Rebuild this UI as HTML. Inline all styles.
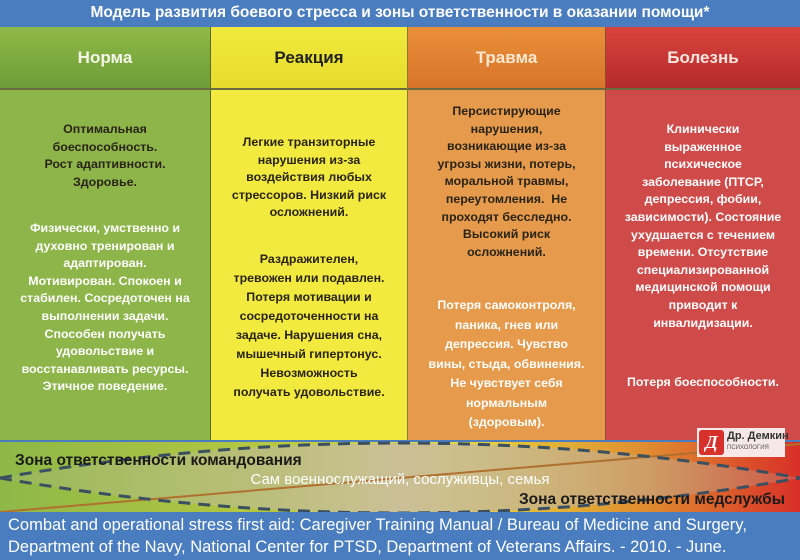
<!DOCTYPE html>
<html><head><meta charset="utf-8"><style>
body{margin:0;width:800px;height:560px;overflow:hidden;font-family:"Liberation Sans",sans-serif;background:#fff;position:relative}
.a{position:absolute}
.t{position:absolute;left:0;top:0;width:800px;height:27px;background:#4a7dc0;color:#fff;font-weight:bold;font-size:15.5px;text-align:center;line-height:25px}
.h{position:absolute;top:27px;height:61px;line-height:61px;text-align:center;font-weight:bold;font-size:17px}
.c{position:absolute;top:90px;height:350px}
.tx{position:absolute;text-align:center;font-weight:bold;font-size:12.4px;line-height:17.6px;color:#2a2418}
.w{color:#fff}
</style></head><body>
<div class="t">Модель развития боевого стресса и зоны ответственности в оказании помощи*</div>
<div class="h" style="left:0;width:210px;background:linear-gradient(#8fba48,#6e9c37);color:#f4f6e8">Норма</div>
<div class="h" style="left:211px;width:196px;background:linear-gradient(#f1ea3c,#e6dc2c);color:#222">Реакция</div>
<div class="h" style="left:408px;width:197px;background:linear-gradient(#e9903a,#d8742a);color:#fbe8d0">Травма</div>
<div class="h" style="left:606px;width:194px;background:linear-gradient(#d8443d,#b52a2c);color:#fbe5e0">Болезнь</div>
<div class="a" style="left:0;top:88px;width:800px;height:2px;background:#6a6a40"></div>
<div class="c" style="left:0;width:210px;background:#8db54a"></div>
<div class="c" style="left:211px;width:196px;background:#f2ea3e"></div>
<div class="c" style="left:408px;width:197px;background:#e59a4c"></div>
<div class="c" style="left:606px;width:194px;background:#cf4b4a"></div>
<div class="a" style="left:210px;top:27px;width:1px;height:413px;background:#5a6a30"></div>
<div class="a" style="left:407px;top:27px;width:1px;height:413px;background:#8a7a30"></div>
<div class="a" style="left:605px;top:27px;width:1px;height:413px;background:#8a5030"></div>

<div class="tx" style="left:0;width:210px;top:121px">Оптимальная<br>боеспособность.<br>Рост адаптивности.<br>Здоровье.</div>
<div class="tx w" style="left:0;width:210px;top:220px">Физически, умственно и<br>духовно тренирован и<br>адаптирован.<br>Мотивирован. Спокоен и<br>стабилен. Сосредоточен на<br>выполнении задачи.<br>Способен получать<br>удовольствие и<br>восстанавливать ресурсы.<br>Этичное поведение.</div>

<div class="tx" style="left:211px;width:196px;top:134px">Легкие транзиторные<br>нарушения из-за<br>воздействия любых<br>стрессоров. Низкий риск<br>осложнений.</div>
<div class="tx" style="left:211px;width:196px;top:250px;line-height:19px">Раздражителен,<br>тревожен или подавлен.<br>Потеря мотивации и<br>сосредоточенности на<br>задаче. Нарушения сна,<br>мышечный гипертонус.<br>Невозможность<br>получать удовольствие.</div>

<div class="tx" style="left:408px;width:197px;top:103px">Персистирующие<br>нарушения,<br>возникающие из-за<br>угрозы жизни, потерь,<br>моральной травмы,<br>переутомления. &nbsp;Не<br>проходят бесследно.<br>Высокий риск<br>осложнений.</div>
<div class="tx w" style="left:408px;width:197px;top:296px;line-height:19.5px">Потеря самоконтроля,<br>паника, гнев или<br>депрессия. Чувство<br>вины, стыда, обвинения.<br>Не чувствует себя<br>нормальным<br>(здоровым).</div>

<div class="tx w" style="left:606px;width:194px;top:121px">Клинически<br>выраженное<br>психическое<br>заболевание (ПТСР,<br>депрессия, фобии,<br>зависимости). Состояние<br>ухудшается с течением<br>времени. Отсутствие<br>специализированной<br>медицинской помощи<br>приводит к<br>инвалидизации.</div>
<div class="tx w" style="left:606px;width:194px;top:374px">Потеря боеспособности.</div>

<svg class="a" style="left:0;top:440px" width="800" height="73" viewBox="0 440 800 73">
<defs><linearGradient id="g" x1="0" x2="1"><stop offset="0" stop-color="#8db848"/><stop offset="0.35" stop-color="#b8c840"/><stop offset="0.55" stop-color="#e8e040"/><stop offset="0.8" stop-color="#e09030"/><stop offset="1" stop-color="#d83028"/></linearGradient>
<linearGradient id="m" x1="0" x2="1"><stop offset="0" stop-color="#a8b880" stop-opacity="0.3"/><stop offset="0.5" stop-color="#c8bca0" stop-opacity="0.9"/><stop offset="1" stop-color="#b8a090" stop-opacity="0.3"/></linearGradient></defs>
<rect x="0" y="440" width="800" height="73" fill="url(#g)"/>
<rect x="0" y="440" width="800" height="2" fill="#4a7dc0"/>
<path d="M0,478 Q400,408 800,478 Q400,548 0,478Z" fill="url(#m)"/>
<line x1="0" y1="512" x2="800" y2="444" stroke="#b07030" stroke-width="2"/>
<path d="M0,478 Q400,408 800,478" fill="none" stroke="#3a5060" stroke-width="3" stroke-dasharray="12,8"/>
<path d="M0,478 Q400,548 800,478" fill="none" stroke="#3a5060" stroke-width="3" stroke-dasharray="12,8"/>
<text x="15" y="465" font-family="Liberation Sans" font-weight="bold" font-size="15.5" fill="#1a1a1a">Зона ответственности командования</text>
<text x="400" y="484" text-anchor="middle" font-family="Liberation Sans" font-size="15" fill="#fff">Сам военнослужащий, сослуживцы, семья</text>
<text x="785" y="504" text-anchor="end" font-family="Liberation Sans" font-weight="bold" font-size="15.5" fill="#1a1a1a">Зона ответственности медслужбы</text>
</svg>
<div class="a" style="left:697px;top:428px;width:88px;height:29px;background:#f6e8e8"></div>
<div class="a" style="left:699px;top:430px;width:25px;height:25px;background:#d8302a;border-radius:3px;color:#fff;font:italic bold 18px 'Liberation Serif',serif;text-align:center;line-height:25px">Д</div>
<div class="a" style="left:727px;top:430px;font-size:11px;font-weight:bold;color:#333">Др. Демкин</div>
<div class="a" style="left:727px;top:445px;font-size:6px;color:#555">ПСИХОЛОГИЯ</div>
<div class="a" style="left:0;top:512px;width:800px;height:48px;background:#4a7dc0;color:#fff;font-size:16.5px;line-height:22px;padding:2px 0 0 8px;box-sizing:border-box;white-space:nowrap">Combat and operational stress first aid: Caregiver Training Manual / Bureau of Medicine and Surgery,<br>Department of the Navy, National Center for PTSD, Department of Veterans Affairs. - 2010. - June.</div>
</body></html>
